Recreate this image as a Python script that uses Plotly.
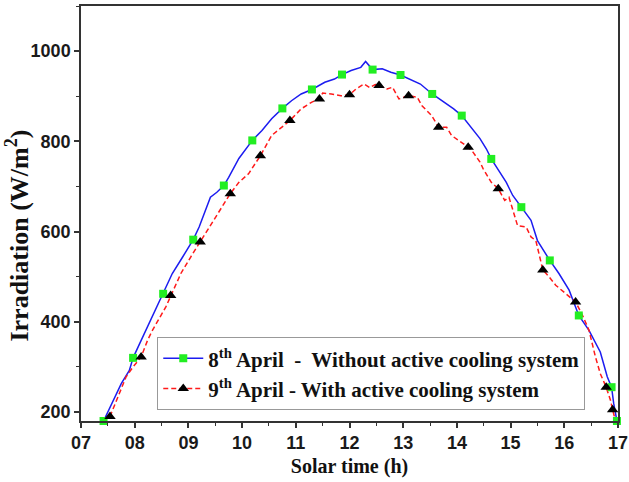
import plotly.graph_objects as go

# 8th April - without active cooling (solar time in h, irradiation in W/m2)
apr8_time = [7.42, 7.60, 7.75, 7.90, 7.94, 7.97, 8.09, 8.18, 8.37, 8.53, 8.70, 8.89,
             9.09, 9.20, 9.32, 9.41, 9.53, 9.66, 9.75, 9.94, 10.19, 10.37, 10.55,
             10.75, 10.92, 11.10, 11.30, 11.54, 11.72, 11.86, 12.03, 12.21, 12.30,
             12.37, 12.43, 12.61, 12.77, 12.95, 13.13, 13.32, 13.54, 13.72, 13.94,
             14.09, 14.24, 14.43, 14.55, 14.64, 14.92, 15.04, 15.20, 15.38, 15.50,
             15.73, 15.90, 16.09, 16.27, 16.46, 16.67, 16.80, 16.88, 16.92, 16.98]
apr8_irr = [180, 226, 263, 292, 307, 320, 351, 374, 425, 462, 507, 543,
            582, 610, 647, 676, 687, 702, 720, 762, 802, 824, 850,
            873, 890, 905, 915, 931, 938, 948, 957, 964, 977,
            968, 959, 961, 953, 947, 938, 927, 905, 890, 872,
            857, 835, 806, 783, 761, 709, 680, 654, 625, 580,
            536, 507, 470, 414, 381, 333, 278, 255, 219, 180]

# 9th April - with active cooling
apr9_time = [7.54, 7.72, 7.84, 7.97, 8.12, 8.24, 8.33, 8.58, 8.67, 8.86, 9.04, 9.22,
             9.38, 9.57, 9.78, 9.94, 10.12, 10.34, 10.55, 10.89, 11.10, 11.30, 11.44,
             11.50, 11.66, 11.84, 12.00, 12.12, 12.27, 12.38, 12.48, 12.55, 12.70,
             12.80, 12.92, 13.10, 13.26, 13.35, 13.44, 13.53, 13.66, 13.81, 13.90,
             14.03, 14.21, 14.30, 14.43, 14.49, 14.58, 14.64, 14.77, 14.89, 14.97,
             15.04, 15.13, 15.29, 15.38, 15.47, 15.60, 15.72, 15.84, 16.03, 16.21,
             16.34, 16.46, 16.58, 16.67, 16.78, 16.86, 16.90, 16.95]
apr9_irr = [190, 241, 278, 300, 322, 359, 381, 433, 458, 507, 543, 577,
            610, 643, 684, 709, 728, 768, 813, 846, 872, 887, 894,
            907, 905, 901, 903, 916, 927, 919, 926, 924, 916,
            920, 894, 901, 898, 879, 868, 857, 831, 831, 813,
            802, 787, 776, 754, 739, 720, 709, 695, 669, 676,
            647, 613, 610, 588, 580, 515, 499, 481, 462, 444,
            414, 381, 322, 285, 255, 226, 205, 182]

# Marked samples on each curve
apr8_mark_time = [7.42, 7.97, 8.53, 9.09, 9.66, 10.19, 10.75, 11.30, 11.86, 12.43,
                  12.95, 13.54, 14.09, 14.64, 15.20, 15.73, 16.27, 16.88, 16.98]
apr8_mark_irr = [180, 320, 462, 582, 702, 802, 873, 915, 948, 959,
                 947, 905, 857, 761, 654, 536, 414, 255, 180]
apr9_mark_time = [7.54, 8.12, 8.67, 9.22, 9.78, 10.34, 10.89, 11.44, 12.00, 12.55,
                  13.10, 13.66, 14.21, 14.77, 15.60, 16.21, 16.78, 16.90]
apr9_mark_irr = [190, 322, 458, 577, 684, 768, 846, 894, 903, 924,
                 901, 831, 787, 695, 515, 444, 255, 205]

x_ticks = [7, 8, 9, 10, 11, 12, 13, 14, 15, 16, 17]
x_labels = ["07", "08", "09", "10", "11", "12", "13", "14", "15", "16", "17"]
y_ticks = [200, 400, 600, 800, 1000]

name8 = "8<sup>th</sup> April \u00a0-\u00a0 Without active cooling system"
name9 = "9<sup>th</sup> April - With active cooling system"

BLUE = "#1c1cf0"
RED = "#ff1a1a"
GREEN = "#22ee22"
serif = "Times New Roman, Liberation Serif, serif"
sans = "Arial, Liberation Sans, sans-serif"

fig = go.Figure()
fig.add_trace(go.Scatter(x=apr8_time, y=apr8_irr, mode="lines",
                         line=dict(color=BLUE, width=1.5), showlegend=False))
fig.add_trace(go.Scatter(x=apr9_time, y=apr9_irr, mode="lines",
                         line=dict(color=RED, width=1.5, dash="5px,3px"), showlegend=False))
fig.add_trace(go.Scatter(x=apr8_mark_time, y=apr8_mark_irr, mode="markers",
                         marker=dict(symbol="square", size=8, color=GREEN),
                         cliponaxis=False, showlegend=False))
fig.add_trace(go.Scatter(x=apr9_mark_time, y=apr9_mark_irr, mode="markers",
                         marker=dict(symbol="triangle-up", size=10, color="black"),
                         cliponaxis=False, showlegend=False))

# legend entries
fig.add_trace(go.Scatter(x=[None], y=[None], mode="lines+markers", name=name8,
                         line=dict(color=BLUE, width=1.5),
                         marker=dict(symbol="square", size=8, color=GREEN)))
fig.add_trace(go.Scatter(x=[None], y=[None], mode="lines+markers", name=name9,
                         line=dict(color=RED, width=1.5, dash="5px,3px"),
                         marker=dict(symbol="triangle-up", size=10, color="black")))

axis_common = dict(showline=True, linecolor="#333333", linewidth=1.5, mirror=True,
                   ticks="outside", ticklen=5, tickwidth=1.5, tickcolor="#333333",
                   showgrid=False, zeroline=False, ticklabeloverflow="allow",
                   automargin=False,
                   tickfont=dict(family=sans, size=18, color="#1a1a1a", weight="bold"))

fig.update_xaxes(range=[7, 17], tickvals=x_ticks, ticktext=x_labels,
                 minor=dict(dtick=0.5, ticklen=3, tickwidth=1.2, tickcolor="#333333", ticks="outside"),
                 title=dict(text="Solar time (h)", standoff=7,
                            font=dict(family=serif, size=20, color="#111111", weight="bold")),
                 **axis_common)
fig.update_yaxes(range=[180, 1100], tickvals=y_ticks,
                 minor=dict(dtick=100, ticklen=3, tickwidth=1.2, tickcolor="#333333", ticks="outside"),
                 **axis_common)

# y-axis title placed a little below the vertical centre of the axis
fig.add_annotation(text="Irradiation (W/m<sup>2</sup>)", textangle=-90,
                   xref="paper", yref="paper", x=-0.118, y=0.446,
                   xanchor="center", yanchor="middle", showarrow=False,
                   font=dict(family=serif, size=26, color="#111111", weight="bold"))

fig.update_layout(
    width=629, height=482,
    margin=dict(l=81, r=11, t=6, b=61),
    paper_bgcolor="white", plot_bgcolor="white",
    legend=dict(x=0.142, y=0.202, xanchor="left", yanchor="top",
                bgcolor="white", bordercolor="#999999", borderwidth=1,
                itemwidth=40, tracegroupgap=0,
                font=dict(family=serif, size=21, color="#111111", weight="bold")),
)

fig.write_html("out.html")
